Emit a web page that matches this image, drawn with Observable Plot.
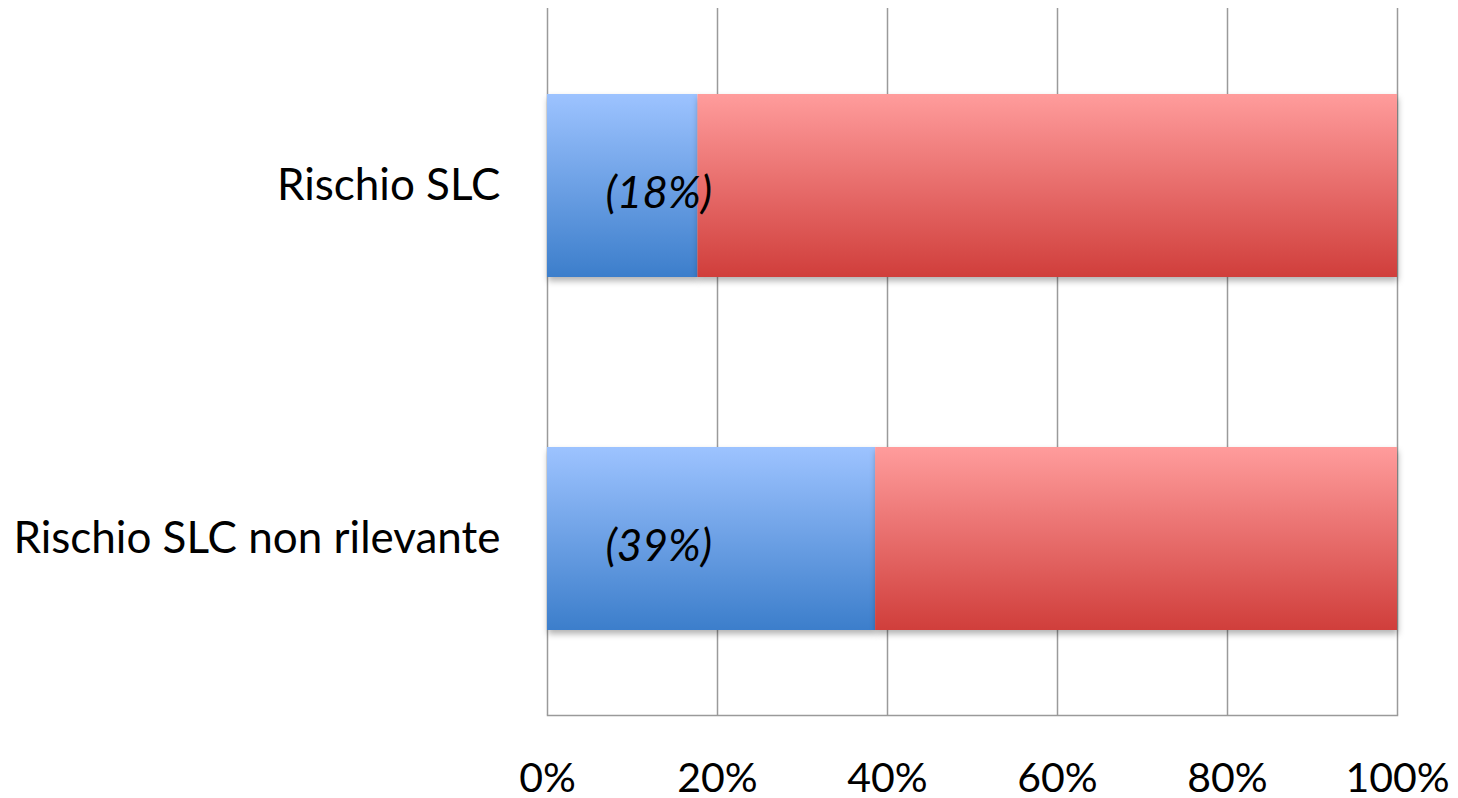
<!DOCTYPE html>
<html>
<head>
<meta charset="utf-8">
<script src="https://cdn.jsdelivr.net/npm/d3@7"></script>
<script src="https://cdn.jsdelivr.net/npm/@observablehq/plot@0.6"></script>
<style>
  html, body { margin: 0; padding: 0; background: #fff; }
  #chart svg g[aria-label="bar"] { filter: drop-shadow(1px 4px 3px rgba(0,0,0,0.3)); }
</style>
</head>
<body>
<div id="chart"></div>
<script>
const categories = ["Rischio SLC", "Rischio SLC non rilevante"];
const blueValues = [17.7, 38.6];
const labels = ["(18%)", "(39%)"];
const xTicks = [0, 20, 40, 60, 80, 100];

const rows = categories.map((c, i) => ({ cat: c, v: blueValues[i], label: labels[i] }));

const svg = Plot.plot({
  width: 1458,
  height: 798,
  marginLeft: 547,
  marginRight: 61,
  marginTop: 8,
  marginBottom: 83,
  style: { fontFamily: "Lato, sans-serif", background: "#fff", overflow: "visible" },
  x: { domain: [0, 100], ticks: xTicks, label: null },
  y: { domain: categories, paddingInner: 0.483, paddingOuter: 0.2415, label: null },
  marks: [
    Plot.gridX(xTicks, { stroke: "#9a9a9a", strokeOpacity: 1, strokeWidth: 1.5 }),
    Plot.frame({ anchor: "bottom", stroke: "#9a9a9a", strokeWidth: 1.5 }),
    Plot.barX(rows, { y: "cat", x1: 0, x2: "v", fill: "url(#gBlue)" }),
    Plot.barX(rows, { y: "cat", x1: "v", x2: 100, fill: "url(#gRed)" }),
    Plot.text(rows, { y: "cat", x: 0, text: "label", textAnchor: "start", dx: 58, dy: 8, fontSize: 44, fontStyle: "italic", fill: "#000" }),
    Plot.axisX({ ticks: xTicks, tickSize: 0, tickPadding: 47, tickFormat: d => d + "%", fontSize: 41, fill: "#000" }),
    Plot.axisY({ tickSize: 0, tickPadding: 47, fontSize: 44, fill: "#000" })
  ]
});

const ns = "http://www.w3.org/2000/svg";
const defs = document.createElementNS(ns, "defs");
defs.innerHTML = `
  <linearGradient id="gBlue" x1="0" y1="0" x2="0" y2="1">
    <stop offset="0" stop-color="#9dc3ff"/>
    <stop offset="1" stop-color="#3c7ecb"/>
  </linearGradient>
  <linearGradient id="gRed" x1="0" y1="0" x2="0" y2="1">
    <stop offset="0" stop-color="#ff9c9c"/>
    <stop offset="1" stop-color="#d03e3b"/>
  </linearGradient>`;
svg.insertBefore(defs, svg.firstChild);
document.getElementById("chart").appendChild(svg);
</script>
</body>
</html>
